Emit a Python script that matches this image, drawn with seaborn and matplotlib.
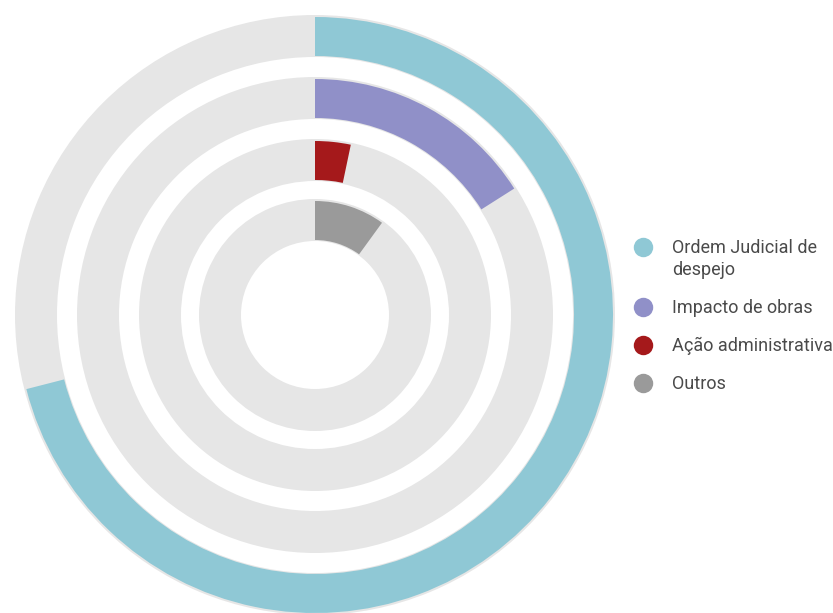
import numpy as np
import matplotlib
matplotlib.use("Agg")
import matplotlib.pyplot as plt
import seaborn as sns

categories = ["Ordem Judicial de\ndespejo", "Impacto de obras", "Ação administrativa", "Outros"]
values = [71, 16, 3.3, 10]
colors = ["#8FC8D5", "#9090C8", "#A5191B", "#9A9A9A"]
total = 100

sns.set_theme(style="white")
plt.rcParams['font.family'] = ['Roboto', 'DejaVu Sans']

W, H = 833, 613
fig = plt.figure(figsize=(W / 100, H / 100), dpi=100)
cx, cy, R = 315, 315, 301
ax = fig.add_axes([(cx - R) / W, (H - cy - R) / H, 2 * R / W, 2 * R / H], projection="polar")
ax.set_theta_zero_location("N")
ax.set_theta_direction(-1)
ax.set_ylim(0, R)
ax.axis("off")

outer = [299, 237, 175, 115]
width = 40
for i, (v, c) in enumerate(zip(values, colors)):
    bottom = outer[i] - width
    ax.bar([0], [width + 2], width=2 * np.pi, bottom=bottom - 1, align="edge",
           color="#E6E6E6", edgecolor="none")
    ax.bar([0], [width - 1], width=v / total * 2 * np.pi, bottom=bottom, align="edge",
           color=c, edgecolor="none")

# legend (manual, handle aligned with first text line)
row_y = [247, 307, 345, 383]
lax = fig.add_axes([0, 0, 1, 1], facecolor="none")
lax.set_xlim(0, W)
lax.set_ylim(H, 0)
lax.axis("off")
for lab, c, y in zip(categories, colors, row_y):
    lax.plot([643], [y], marker="o", markersize=14, color=c, markeredgecolor="none",
             linestyle="none")
    lax.text(672, y - 8, lab, va="top", ha="left", fontsize=13, color="#4A4A4A",
             linespacing=1.3)

fig.savefig("out.png", dpi=100, facecolor="white")
